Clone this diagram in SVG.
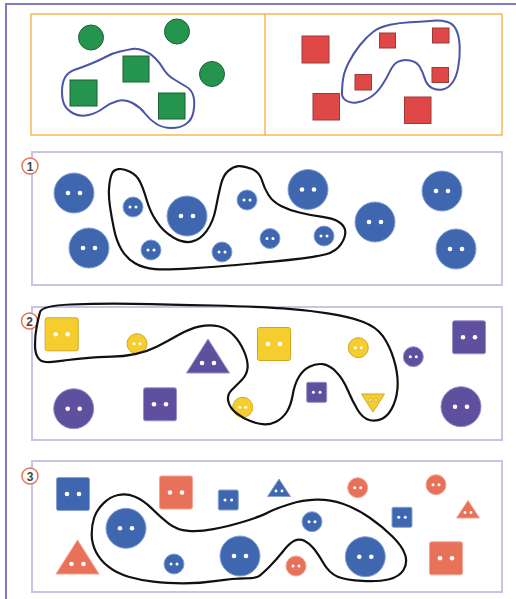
<svg xmlns="http://www.w3.org/2000/svg" xmlns:xlink="http://www.w3.org/1999/xlink" width="516" height="599" viewBox="0 0 516 599">
<style>
.frame{fill:none;stroke:#7e7bc2;stroke-width:2}
.panel{fill:#fff;stroke:#c7c4e8;stroke-width:2}
.top{fill:#fff;stroke:#f6b84e;stroke-width:1.5}
.blueloop{fill:none;stroke:#4a55a8;stroke-width:2}
.loop{fill:none;stroke:#111;stroke-width:2.2}
.gc{fill:#25944f;stroke:#1d5e35;stroke-width:1}
.rs{fill:#e04848;stroke:#9c3a3a;stroke-width:1}
.blue{fill:#3f67b0;stroke:#86a2d4;stroke-width:1}
.purple{fill:#5e4f9f;stroke:#9a90c8;stroke-width:1}
.yellow{fill:#f5cd2e;stroke:#d3a81c;stroke-width:1}
.red{fill:#e8715a;stroke:#f2a593;stroke-width:1}
.h{fill:#fff;stroke:none}
.yellow .h{stroke:#c49a18;stroke-width:0.7}
.lab circle{fill:#fff;stroke:#e8735a;stroke-width:1.5}
.lab text{font-family:"Liberation Sans",Arial,sans-serif;font-weight:bold;font-size:12px;fill:#444;text-anchor:middle}
</style>
<defs>
<g id="cL"><circle r="20"/><circle class="h" cx="-6" r="2.3"/><circle class="h" cx="6" r="2.3"/></g>
<g id="cS"><circle r="10"/><circle class="h" cx="-3" r="1.5"/><circle class="h" cx="3" r="1.5"/></g>
<g id="sL"><rect x="-16.5" y="-16.5" width="33" height="33" rx="2"/><circle class="h" cx="-6" r="2.3"/><circle class="h" cx="6" r="2.3"/></g>
<g id="sS"><rect x="-10" y="-10" width="20" height="20" rx="1.5"/><circle class="h" cx="-3.3" r="1.5"/><circle class="h" cx="3.3" r="1.5"/></g>
<g id="tL"><path d="M0 -20 L21.5 14 L-21.5 14 Z" stroke-linejoin="round"/><circle class="h" cx="-6" cy="4" r="2.3"/><circle class="h" cx="6" cy="4" r="2.3"/></g>
<g id="tS"><path d="M0 -9 L11.5 8.5 L-11.5 8.5 Z" stroke-linejoin="round"/><circle class="h" cx="-3" cy="3" r="1.4"/><circle class="h" cx="3" cy="3" r="1.4"/></g>
</defs>

<g id="frame">
<path class="frame" d="M6 599 L6 4 L516 4"/>
</g>

<g id="top-box">
<rect class="top" x="31" y="14" width="471" height="121"/>
<line x1="265" y1="14" x2="265" y2="135" stroke="#f6b84e" stroke-width="1.5"/>
</g>

<g id="top-left">
<circle class="gc" cx="91" cy="37.5" r="12.5"/>
<circle class="gc" cx="177" cy="31.5" r="12.5"/>
<circle class="gc" cx="212" cy="74" r="12.5"/>
<rect class="gc" x="70" y="80" width="27" height="26"/>
<rect class="gc" x="123" y="56" width="26" height="26"/>
<rect class="gc" x="158.5" y="93" width="26.5" height="26"/>
<path class="blueloop" d="M 73.5 113.5 Q 80 117 88.5 115 Q 97 113 103.5 108 Q 110 103 117.5 101 Q 125 99 132.5 103 Q 140 107 145 113.5 Q 150 120 156.5 124 Q 163 128 171.5 128 Q 180 128 186 124 Q 192 120 193.5 111.5 Q 195 103 193.5 96.5 Q 192 90 186 86.5 Q 180 83 173.5 79 Q 167 75 163.5 69 Q 160 63 155 58 Q 150 53 143.5 50.5 Q 137 48 132 49 Q 127 50 120 51.5 Q 113 53 106.5 56.5 Q 100 60 91.5 63.5 Q 83 67 75.5 69.5 Q 68 72 65 77.5 Q 62 83 62 91.5 Q 62 100 64.5 105 Q 67 110 73.5 113.5 Z"/>
</g>

<g id="top-right">
<rect class="rs" x="302" y="36" width="27" height="27"/>
<rect class="rs" x="313" y="93.5" width="26.5" height="26.5"/>
<rect class="rs" x="404.5" y="97" width="26.5" height="26.5"/>
<rect class="rs" x="379.5" y="33" width="16" height="15"/>
<rect class="rs" x="432.5" y="28" width="16.5" height="15"/>
<rect class="rs" x="432" y="67.5" width="16.5" height="15"/>
<rect class="rs" x="355" y="74.5" width="16.5" height="15.5"/>
<path class="blueloop" d="M 342.5 83.3 Q 343.3 73.3 348.3 63.3 Q 353.3 53.3 360 45 Q 366.7 36.7 373.3 31.7 Q 380 26.7 390 24.7 Q 400 22.7 410 22.2 Q 420 21.7 430 20.9 Q 440 20 446.7 21.7 Q 453.3 23.3 456.3 30 Q 459.3 36.7 459.7 46.7 Q 460 56.7 458.3 66.7 Q 456.7 76.7 452.5 82.5 Q 448.3 88.3 442.5 89.5 Q 436.7 90.7 431.7 87.9 Q 426.7 85 424.7 78.4 Q 422.7 71.7 419.7 66.7 Q 416.7 61.7 410 60.5 Q 403.3 59.3 398.3 61.7 Q 393.3 64 390 71.2 Q 386.7 78.3 381.7 85.8 Q 376.7 93.3 370 97.5 Q 363.3 101.7 356.7 102.5 Q 350 103.3 346.4 100.8 Q 342.7 98.3 342.2 95.8 Q 341.7 93.3 342.5 83.3 Z"/>
</g>

<g id="panel1">
<rect class="panel" x="32" y="152" width="470" height="133"/>
<g class="lab"><circle cx="30" cy="166" r="8"/><text x="30" y="170.5">1</text></g>
<g class="blue">
<use xlink:href="#cL" x="74" y="193"/>
<use xlink:href="#cL" x="89" y="248"/>
<use xlink:href="#cL" x="187" y="216"/>
<use xlink:href="#cL" x="308" y="189.5"/>
<use xlink:href="#cL" x="375" y="222"/>
<use xlink:href="#cL" x="442" y="191"/>
<use xlink:href="#cL" x="456" y="249"/>
<use xlink:href="#cS" x="133" y="207"/>
<use xlink:href="#cS" x="151" y="250"/>
<use xlink:href="#cS" x="222" y="252"/>
<use xlink:href="#cS" x="247" y="200"/>
<use xlink:href="#cS" x="270" y="238.5"/>
<use xlink:href="#cS" x="324" y="236"/>
</g>
<path class="loop" d="M 111.7 174.2 Q 113.3 170 118.3 169.2 Q 123.3 168.3 130 171.7 Q 136.7 175 140 181.7 Q 143.3 188.3 146.7 200 Q 150 211.7 156.7 221.7 Q 163.3 231.7 173.3 237.5 Q 183.3 243.3 191.7 241.7 Q 200 240 206.7 230.9 Q 213.3 221.7 215.8 208.4 Q 218.3 195 220.8 185 Q 223.3 175 228.3 170.9 Q 233.3 166.7 238.3 166.2 Q 243.3 165.7 251.3 168.7 Q 259.3 171.7 261.8 180 Q 264.3 188.3 268.5 195 Q 272.7 201.7 281 205.9 Q 289.3 210 299.3 212.5 Q 309.3 215 321 216.7 Q 332.7 218.3 338.5 221.7 Q 344.3 225 345.2 230.9 Q 346 236.7 341 244.2 Q 336 251.7 326 254.2 Q 316 256.7 302.7 258.4 Q 289.3 260 272.7 261.7 Q 256 263.3 236.4 265 Q 216.7 266.7 191.7 268.4 Q 166.7 270 155 269.2 Q 143.3 268.3 135 263.3 Q 126.7 258.3 121.7 250 Q 116.7 241.7 114.2 230 Q 111.7 218.3 110 206.7 Q 108.3 195 109.2 186.7 Q 110 178.3 111.7 174.2 Z"/>
</g>

<g id="panel2">
<rect class="panel" x="32" y="307" width="470" height="133"/>
<g class="lab"><circle cx="29.5" cy="321" r="8"/><text x="29.5" y="325.5">2</text></g>
<g class="yellow">
<use xlink:href="#sL" x="61.7" y="334.3"/>
<use xlink:href="#sL" x="274" y="344"/>
<use xlink:href="#cS" x="137" y="343.7"/>
<use xlink:href="#cS" x="242.7" y="407.3"/>
<use xlink:href="#cS" x="358.3" y="347.7"/>
<g transform="translate(373,400)"><path d="M-11.5 -6 L11.5 -6 L0 12 Z" stroke-linejoin="round"/><circle class="h" cx="-3" cy="0" r="1.5"/><circle class="h" cx="3" cy="0" r="1.5"/></g>
</g>
<g class="purple">
<use xlink:href="#tL" x="208" y="359"/>
<use xlink:href="#cL" x="73.7" y="408.7"/>
<use xlink:href="#sL" x="160" y="404.3"/>
<use xlink:href="#sS" x="316.7" y="392.3"/>
<use xlink:href="#cS" x="413.3" y="356.7"/>
<use xlink:href="#sL" x="469" y="337.3"/>
<use xlink:href="#cL" x="461" y="406.7"/>
</g>
<path class="loop" d="M 70.9 304.5 Q 100 303.3 133.4 303.8 Q 166.7 304.3 213.4 305.5 Q 260 306.7 283 308.4 Q 306 310 327.7 313.4 Q 349.3 316.7 362.7 321.7 Q 376 326.7 382.7 335.9 Q 389.3 345 393.5 358.4 Q 397.7 371.7 397.7 383.4 Q 397.7 395 393.5 405 Q 389.3 415 382.7 418.4 Q 376 421.7 369.4 420 Q 362.7 418.3 357.7 410 Q 352.7 401.7 347.7 390 Q 342.7 378.3 336 371.7 Q 329.3 365 322.7 364.2 Q 316 363.3 309.4 366.7 Q 302.7 370 298.5 377.5 Q 294.3 385 292.7 395 Q 291 405 286.9 411.7 Q 282.7 418.3 276 421.7 Q 269.3 425 262.7 424.2 Q 256 423.3 249.7 420.8 Q 243.3 418.3 236.7 413.3 Q 230 408.3 228.4 401.7 Q 226.7 395 231.7 390 Q 236.7 385 241.7 380 Q 246.7 375 247.5 368.4 Q 248.3 361.7 244.2 351.7 Q 240 341.7 233.4 335 Q 226.7 328.3 218.4 326.3 Q 210 324.3 200 326.3 Q 190 328.3 178.4 335 Q 166.7 341.7 156.7 346.7 Q 146.7 351.7 135 354.2 Q 123.3 356.7 111.7 356.7 Q 100 356.7 83.4 358.4 Q 66.7 360 55 361.7 Q 43.3 363.3 39.2 359.2 Q 35 355 35 345 Q 35 335 36.7 326.7 Q 38.3 318.3 40 312 Q 41.7 305.7 70.9 304.5 Z"/>
</g>

<g id="panel3">
<rect class="panel" x="32" y="461" width="470" height="131"/>
<g class="lab"><circle cx="30" cy="476" r="8"/><text x="30" y="480.5">3</text></g>
<g class="blue">
<use xlink:href="#sL" x="73" y="494"/>
<use xlink:href="#sS" x="228.3" y="500"/>
<use xlink:href="#tS" x="279" y="488"/>
<use xlink:href="#sS" x="402" y="517.3"/>
<use xlink:href="#cL" x="126" y="528.3"/>
<use xlink:href="#cS" x="174" y="564"/>
<use xlink:href="#cL" x="240" y="556"/>
<use xlink:href="#cS" x="312" y="521.7"/>
<use xlink:href="#cL" x="365.3" y="556.7"/>
</g>
<g class="red">
<use xlink:href="#sL" x="176" y="492.5"/>
<use xlink:href="#tL" x="77.5" y="560"/>
<use xlink:href="#cS" x="357.7" y="487.7"/>
<use xlink:href="#cS" x="436" y="484.7"/>
<use xlink:href="#tS" x="468" y="509.5"/>
<use xlink:href="#cS" x="296" y="566"/>
<use xlink:href="#sL" x="446" y="558.3"/>
</g>
<path class="loop" d="M 94.2 517.5 Q 96.7 510 103.4 503.4 Q 110 496.7 118.4 495 Q 126.7 493.3 135 496.7 Q 143.3 500 151.7 508.4 Q 160 516.7 168.4 523.4 Q 176.7 530 188.4 530.9 Q 200 531.7 213.4 529.2 Q 226.7 526.7 243.4 521.7 Q 260 516.7 268 512.5 Q 276 508.3 289.4 504.2 Q 302.7 500 316 499.7 Q 329.3 499.3 342.7 503.8 Q 356 508.3 369.4 517.5 Q 382.7 526.7 392.7 536.7 Q 402.7 546.7 405.2 555 Q 407.7 563.3 403.5 570 Q 399.3 576.7 389.3 579.2 Q 379.3 581.7 362.7 580.9 Q 346 580 337.7 576.7 Q 329.3 573.3 323.5 563.3 Q 317.7 553.3 313.5 548.3 Q 309.3 543.3 304.3 540.8 Q 299.3 538.3 294.3 540.8 Q 289.3 543.3 282.7 551.7 Q 276 560 269.4 566.7 Q 262.7 573.3 259.4 575.8 Q 256 578.3 244.7 578.3 Q 233.3 578.3 216.7 580.8 Q 200 583.3 183.4 583.3 Q 166.7 583.3 153.4 581.7 Q 140 580 128.4 576.7 Q 116.7 573.3 108.4 566.7 Q 100 560 95.9 551.7 Q 91.7 543.3 91.7 534.2 Q 91.7 525 94.2 517.5 Z"/>
</g>
</svg>
